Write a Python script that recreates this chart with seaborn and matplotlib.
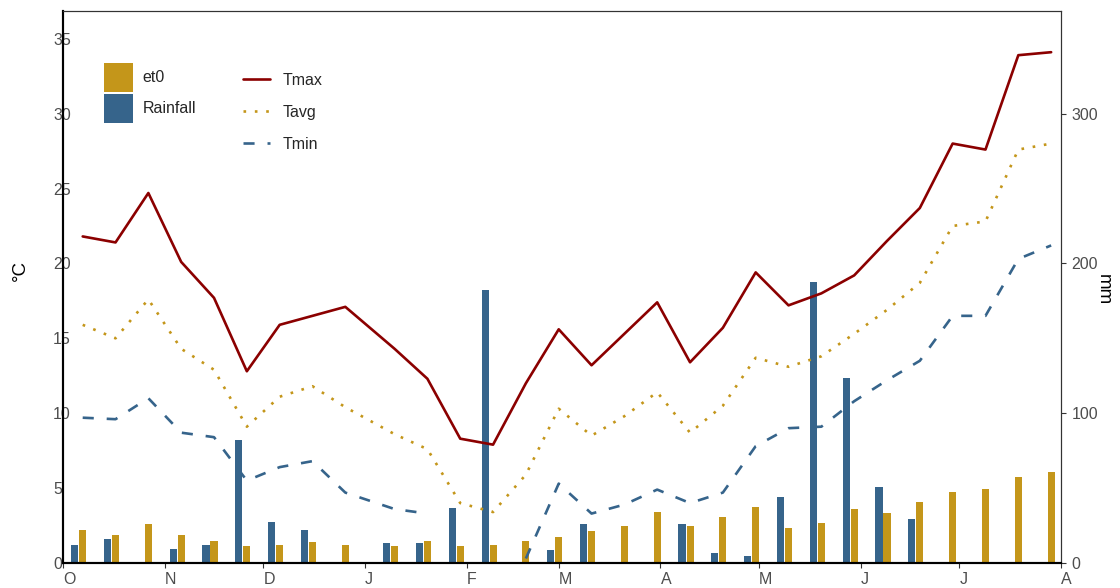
import numpy as np
import pandas as pd
import matplotlib
matplotlib.use("Agg")
import matplotlib.pyplot as plt
import seaborn as sns
from matplotlib.patches import Patch
from matplotlib.lines import Line2D

# ---------------- data ----------------
dekad_dates = ["2018-10-07", "2018-10-17", "2018-10-27", "2018-11-06", "2018-11-16",
               "2018-11-26", "2018-12-06", "2018-12-16", "2018-12-26", "2019-01-10",
               "2019-01-20", "2019-01-30", "2019-02-09", "2019-02-19", "2019-03-01",
               "2019-03-11", "2019-03-21", "2019-03-31", "2019-04-10", "2019-04-20",
               "2019-04-30", "2019-05-10", "2019-05-20", "2019-05-30", "2019-06-09",
               "2019-06-19", "2019-06-29", "2019-07-09", "2019-07-19", "2019-07-29"]

tmax = [21.8, 21.4, 24.7, 20.1, 17.7, 12.8, 15.9, 16.5, 17.1, 14.3,
        12.3, 8.3, 7.9, 12.0, 15.6, 13.2, 15.3, 17.4, 13.4, 15.7,
        19.4, 17.2, 18.0, 19.2, 21.5, 23.7, 28.0, 27.6, 33.9, 34.1]
tavg = [15.9, 15.0, 17.6, 14.3, 12.9, 9.1, 11.1, 11.8, 10.4, 8.6,
        7.6, 4.0, 3.4, 5.9, 10.3, 8.5, 9.8, 11.4, 8.7, 10.5,
        13.7, 13.1, 13.8, 15.3, 16.9, 18.7, 22.5, 22.8, 27.6, 28.0]
tmin = [9.7, 9.6, 11.0, 8.7, 8.4, 5.5, 6.4, 6.8, 4.7, 3.6,
        3.3, np.nan, np.nan, 0.3, 5.3, 3.3, 3.9, 4.9, 4.0, 4.7,
        7.8, 9.0, 9.1, 10.8, 12.2, 13.5, 16.5, 16.5, 20.3, 21.2]
rainfall = [11.8, 15.8, 0.0, 9.1, 11.8, 81.8, 27.1, 21.8, 0.0, 13.1,
            13.1, 36.5, 182.5, 1.0, 8.5, 25.8, 1.0, 0.0, 25.8, 6.5,
            4.5, 43.8, 187.8, 123.8, 50.5, 29.1, 1.0, 0.0, 0.0, 0.0]
et0 = [21.8, 18.5, 25.8, 18.5, 14.5, 11.1, 11.8, 13.8, 11.8, 11.1,
       14.5, 11.1, 11.8, 14.5, 17.1, 21.1, 24.5, 33.8, 24.5, 30.5,
       37.1, 23.1, 26.5, 35.8, 33.1, 40.5, 47.1, 49.1, 57.1, 60.5]

month_starts = ["2018-10-01", "2018-11-01", "2018-12-01", "2019-01-01", "2019-02-01",
                "2019-03-01", "2019-04-01", "2019-05-01", "2019-06-01", "2019-07-01",
                "2019-08-01"]
month_labels = ["O", "N", "D", "J", "F", "M", "A", "M", "J", "J", "A"]
temp_ticks = [0, 5, 10, 15, 20, 25, 30, 35]
mm_ticks = [0, 100, 200, 300]

# ---------------- style ----------------
sns.set_style("white")
plt.rcParams["font.family"] = ["Liberation Sans", "DejaVu Sans"]

RED = "#8B0000"
GOLD = "#C4961A"
BLUE = "#36648B"
TICKC = "#4D4D4D"

origin = pd.Timestamp(month_starts[0])
day = np.asarray((pd.to_datetime(dekad_dates) - origin).days, dtype=float)
tick_days = np.asarray((pd.to_datetime(month_starts) - origin).days, dtype=float)

fig = plt.figure(figsize=(11.2, 5.88), dpi=100)
ax = fig.add_axes([63 / 1120, 25 / 588, 998 / 1120, 552 / 588])
ax2 = ax.twinx()
ax.set_zorder(ax2.get_zorder() + 1)
ax.patch.set_visible(False)

# bars (mm, right axis)
sns.barplot(x=day, y=et0, native_scale=True, width=0.215, color=GOLD,
            saturation=1, errorbar=None, ax=ax2, linewidth=0, edgecolor="none")
sns.barplot(x=day - 2.44, y=rainfall, native_scale=True, width=0.215, color=BLUE,
            saturation=1, errorbar=None, ax=ax2, linewidth=0, edgecolor="none")

# lines (degC, left axis)
sns.lineplot(x=day, y=tmax, ax=ax, color=RED, linewidth=1.9, errorbar=None)
sns.lineplot(x=day, y=tavg, ax=ax, color=GOLD, linewidth=1.9, errorbar=None,
             linestyle=(0, (1.0, 3.3)), dash_capstyle="butt")
tmin_df = pd.DataFrame({"day": day, "t": tmin})
tmin_df["seg"] = tmin_df["t"].isna().cumsum()
tmin_df = tmin_df.dropna()
sns.lineplot(data=tmin_df, x="day", y="t", units="seg", estimator=None, ax=ax,
             color=BLUE, linewidth=1.9, linestyle=(0, (4.2, 4.9)), dash_capstyle="butt")

# axes limits / ticks
ax.set_xlim(tick_days[0], tick_days[-1])
ax.set_ylim(0, 36.85)
ax2.set_ylim(0, 368.5)
ax.set_xticks(tick_days)
ax.set_xticklabels(month_labels, ha="left")
ax.set_yticks(temp_ticks)
ax.set_yticklabels([str(v) for v in temp_ticks], ha="left")
ax2.set_yticks(mm_ticks)
ax2.set_yticklabels([str(v) for v in mm_ticks])

ax.tick_params(axis="x", length=3.6, width=0.8, color="#333333", pad=3,
               labelsize=11.5, labelcolor=TICKC, bottom=True)
ax.tick_params(axis="y", length=0, pad=7.2, labelsize=11.5, labelcolor=TICKC)
ax2.tick_params(axis="y", length=3.6, width=0.8, color="#333333", pad=4,
                labelsize=11.5, labelcolor=TICKC, right=True)

for a in (ax, ax2):
    a.spines["left"].set_linewidth(1.5)
    a.spines["left"].set_color("black")
    a.spines["bottom"].set_linewidth(1.5)
    a.spines["bottom"].set_color("black")
    a.spines["top"].set_linewidth(0.8)
    a.spines["top"].set_color("#333333")
    a.spines["right"].set_linewidth(0.8)
    a.spines["right"].set_color("#333333")
    a.grid(False)

ax.set_xlabel("")
ax2.set_xlabel("")
ax.set_ylabel("°C", fontsize=13.5, color="black")
ax.yaxis.set_label_coords(-0.034, 0.53)
ax2.set_ylabel("mm", fontsize=13.5, color="black", rotation=-90, va="bottom")
ax2.yaxis.set_label_coords(1.034, 0.495)

# legends
bar_handles = [Patch(facecolor=GOLD, edgecolor="none"), Patch(facecolor=BLUE, edgecolor="none")]
leg1 = ax.legend(bar_handles, ["et0", "Rainfall"], loc="upper left",
                 bbox_to_anchor=(0.041, 0.906), frameon=False, borderpad=0,
                 borderaxespad=0, handlelength=1.81, handleheight=2.41,
                 handletextpad=0.6, labelspacing=0.125, fontsize=11.5)
ax.add_artist(leg1)
line_handles = [Line2D([], [], color=RED, lw=1.9),
                Line2D([], [], color=GOLD, lw=1.9, linestyle=(0, (1.0, 3.3)), dash_capstyle="butt"),
                Line2D([], [], color=BLUE, lw=1.9, linestyle=(0, (4.2, 4.9)), dash_capstyle="butt")]
ax.legend(line_handles, ["Tmax", "Tavg", "Tmin"], loc="upper left",
          bbox_to_anchor=(0.180, 0.888), frameon=False, borderpad=0,
          borderaxespad=0, handlelength=1.69, handletextpad=0.8,
          labelspacing=1.06, fontsize=11.5)

fig.savefig("out.png", dpi=100)
